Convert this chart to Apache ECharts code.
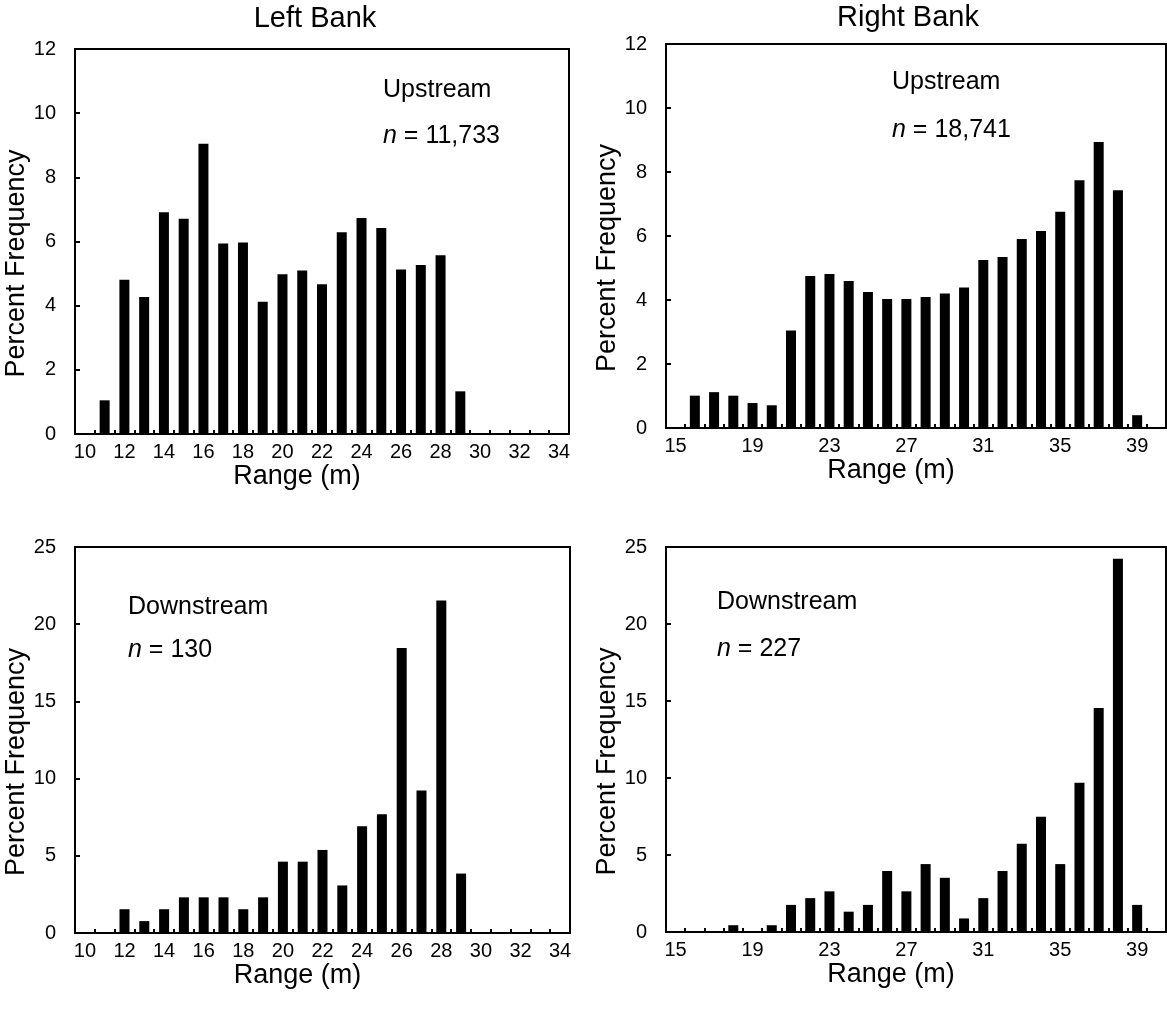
<!DOCTYPE html>
<html><head><meta charset="utf-8">
<script src="https://cdn.jsdelivr.net/npm/echarts@6/dist/echarts.min.js"></script>
<style>html,body{margin:0;padding:0;background:#fff}#c{width:1167px;height:1010px}</style>
</head><body><div id="c"></div>
<script>
// ---- data ----
const leftCats  = ['10','11','12','13','14','15','16','17','18','19','20','21','22','23','24','25','26','27','28','29','30','31','32','33','34'];
const rightCats = ['15','16','17','18','19','20','21','22','23','24','25','26','27','28','29','30','31','32','33','34','35','36','37','38','39','40'];

const leftUpValues    = [null,1.05,4.81,4.27,6.91,6.71,9.05,5.94,5.97,4.12,4.98,5.10,4.67,6.29,6.73,6.42,5.13,5.27,5.57,1.33,null,null,null,null,null];
const rightUpValues   = [null,1.01,1.12,1.01,0.78,0.71,3.05,4.75,4.81,4.59,4.25,4.03,4.03,4.09,4.20,4.39,5.25,5.34,5.91,6.16,6.76,7.74,8.94,7.43,0.40,null];
const leftDownValues  = [null,null,1.54,0.77,1.54,2.31,2.31,2.31,1.54,2.31,4.62,4.62,5.38,3.08,6.92,7.69,18.46,9.23,21.54,3.85,null,null,null,null,null];
const rightDownValues = [null,null,null,0.44,null,0.44,1.76,2.20,2.64,1.32,1.76,3.96,2.64,4.41,3.52,0.88,2.20,3.96,5.73,7.49,4.41,9.69,14.54,24.23,1.76,null];

const bankTitles = ['Left Bank','Right Bank'];
const panelLabels = ['Upstream','Upstream','Downstream','Downstream'];
const panelN = ['11,733','18,741','130','227'];
const xTitle = 'Range (m)';
const yTitle = 'Percent Frequency';

// ---- layout ----
const FONT = '"Liberation Sans", Arial, sans-serif';
const grids = [
  {left:75,  top:49,  width:494, height:385},
  {left:666, top:44,  width:500, height:384},
  {left:75,  top:547, width:495, height:386},
  {left:666, top:547, width:500, height:385}
];
const panels = [
  {cats:leftCats,  vals:leftUpValues,    labInt:1, max:12, step:2},
  {cats:rightCats, vals:rightUpValues,   labInt:3, max:12, step:2},
  {cats:leftCats,  vals:leftDownValues,  labInt:1, max:25, step:5},
  {cats:rightCats, vals:rightDownValues, labInt:3, max:25, step:5}
];

const xAxis = [], yAxis = [], series = [];
panels.forEach((p,i)=>{
  xAxis.push({
    type:'category', gridIndex:i, data:p.cats, boundaryGap:true,
    axisLine:{show:true, lineStyle:{color:'#000', width:2}},
    axisTick:{show:true, inside:true, length:4, interval:0, lineStyle:{color:'#000', width:2}},
    axisLabel:{interval:p.labInt, color:'#000', fontFamily:FONT, fontSize:20, margin:8},
    name:xTitle, nameLocation:'middle', nameGap:19,
    nameTextStyle:{color:'#000', fontFamily:FONT, fontSize:27, padding:[0,50,0,0]}
  });
  yAxis.push({
    type:'value', gridIndex:i, min:0, max:p.max, interval:p.step,
    splitLine:{show:false},
    axisLine:{show:true, lineStyle:{color:'#000', width:2}},
    axisTick:{show:true, inside:true, length:5, lineStyle:{color:'#000', width:2}},
    axisLabel:{color:'#000', fontFamily:FONT, fontSize:20, margin:19},
    name:yTitle, nameLocation:'middle', nameGap:40, nameRotate:90,
    nameTextStyle:{color:'#000', fontFamily:FONT, fontSize:27, padding:[0,44,0,0]}
  });
  series.push({
    type:'bar', xAxisIndex:i, yAxisIndex:i, data:p.vals, barWidth:10,
    itemStyle:{color:'#000'}, silent:true, animation:false
  });
});

const txt = (x,y,text,size,align)=>({
  type:'text', x:x, y:y, silent:true,
  style:{text:text, fill:'#000', font:size+'px '+FONT, textAlign:align||'left', textVerticalAlign:'middle',
         rich:{i:{fontStyle:'italic', fontSize:size, fontFamily:FONT, fill:'#000'}, r:{fontSize:size, fontFamily:FONT, fill:'#000'}}}
});

const annPos = [[383,90,136],[892,82.5,130],[128,606.7,650],[717,602,649]];
const graphic = [
  txt(315,18.5,bankTitles[0],29,'center'),
  txt(908,18,bankTitles[1],29,'center')
];
annPos.forEach((a,i)=>{
  graphic.push(txt(a[0],a[1],panelLabels[i],25));
  graphic.push(txt(a[0],a[2],'{i|n}{r| = '+panelN[i]+'}',25));
});

const chart = echarts.init(document.getElementById('c'), null, {renderer:'canvas'});
chart.setOption({
  animation:false,
  backgroundColor:'#fff',
  grid: grids.map(g=>Object.assign({show:true, borderColor:'#000', borderWidth:2, backgroundColor:'transparent'}, g)),
  xAxis, yAxis, series, graphic
});
</script></body></html>
